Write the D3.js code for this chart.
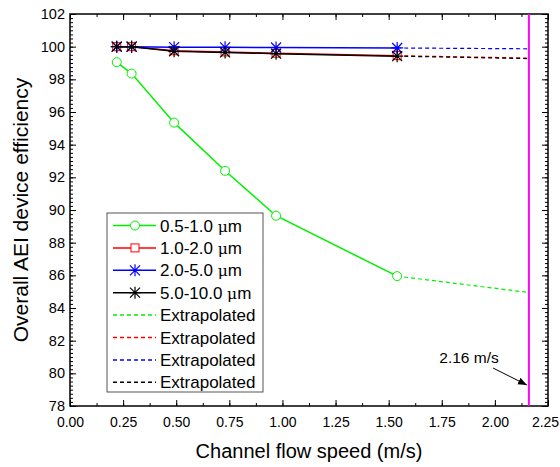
<!DOCTYPE html>
<html>
<head>
<meta charset="utf-8">
<script src="https://cdn.jsdelivr.net/npm/d3@7"></script>
<style>
  html, body { margin: 0; padding: 0; background: #fff; }
  svg { display: block; font-family: "Liberation Sans", Arial, sans-serif; }
</style>
</head>
<body>
<svg id="chart" width="560" height="467"></svg>
<script>
// Measured channel flow speeds (m/s)
const speeds = [0.22, 0.29, 0.49, 0.73, 0.97, 1.54];
// Flow speed marked by the vertical reference line (m/s)
const limitSpeed = 2.16;

// Device efficiency (%) per particle size range
const sizeRanges = ["0.5-1.0", "1.0-2.0", "2.0-5.0", "5.0-10.0"];
const eff05  = [99.05, 98.35, 95.35, 92.4, 89.65, 85.95];
const eff10  = [100, 100, 99.75, 99.68, 99.6, 99.45];
const eff20  = [100, 100, 99.97, 99.96, 99.95, 99.92];
const eff50  = [100, 100, 99.72, 99.65, 99.57, 99.42];
// Extrapolated efficiency at the reference speed
const extrapolatedEff = [84.95, 99.3, 99.87, 99.27];

const xTicks = [0, 0.25, 0.5, 0.75, 1.0, 1.25, 1.5, 1.75, 2.0, 2.25];
const yTicks = [78, 80, 82, 84, 86, 88, 90, 92, 94, 96, 98, 100, 102];

const series = [
  { name: sizeRanges[0], values: eff05, ext: extrapolatedEff[0], color: "#00f000", marker: "circle" },
  { name: sizeRanges[1], values: eff10, ext: extrapolatedEff[1], color: "#ff0000", marker: "square" },
  { name: sizeRanges[2], values: eff20, ext: extrapolatedEff[2], color: "#0000ff", marker: "star" },
  { name: sizeRanges[3], values: eff50, ext: extrapolatedEff[3], color: "#000000", marker: "star" }
];

const L = 70, R = 548, T = 14, B = 406;
const svg = d3.select("#chart");
const x = d3.scaleLinear().domain([0, 2.25]).range([L, R]);
const y = d3.scaleLinear().domain([78, 102]).range([B, T]);

// Axes: ticks point inward on all four sides
const minorX = d3.range(0, 2.2501, 0.125);
const minorY = d3.range(78, 102.001, 0.25);

function axisGroup(axis, tx, ty) {
  const g = svg.append("g").attr("transform", `translate(${tx},${ty})`).call(axis);
  g.select(".domain").remove();
  g.selectAll("line").attr("stroke", "#000").attr("stroke-width", 1);
  return g;
}
// minor ticks
axisGroup(d3.axisBottom(x).tickValues(minorX).tickSize(-3).tickFormat(""), 0, B);
axisGroup(d3.axisTop(x).tickValues(minorX).tickSize(-3).tickFormat(""), 0, T);
axisGroup(d3.axisLeft(y).tickValues(minorY).tickSize(-3).tickFormat(""), L, 0);
axisGroup(d3.axisRight(y).tickValues(minorY).tickSize(-3).tickFormat(""), R, 0);
// major ticks with labels
const xb = axisGroup(d3.axisBottom(x).tickValues(xTicks).tickSize(-6).tickPadding(11).tickFormat(d3.format(".2f")), 0, B);
xb.selectAll("text").attr("font-size", 14).attr("font-family", "Liberation Sans, Arial, sans-serif").attr("fill", "#000");
xb.selectAll("text").filter(d => d === 2.25).attr("dx", -3);
axisGroup(d3.axisTop(x).tickValues(xTicks).tickSize(-6).tickFormat(""), 0, T);
const yl = axisGroup(d3.axisLeft(y).tickValues(yTicks).tickSize(-6).tickPadding(5).tickFormat(d3.format("d")), L, 0);
yl.selectAll("text").attr("font-size", 14.5).attr("font-family", "Liberation Sans, Arial, sans-serif").attr("fill", "#000");
axisGroup(d3.axisRight(y).tickValues(yTicks).tickSize(-6).tickFormat(""), R, 0);

// frame
svg.append("rect").attr("x", L).attr("y", T).attr("width", R - L).attr("height", B - T)
  .attr("fill", "none").attr("stroke", "#000").attr("stroke-width", 1.5);

// axis titles
svg.append("text").attr("x", (L + R) / 2).attr("y", 458).attr("text-anchor", "middle")
  .attr("font-size", 20).text("Channel flow speed (m/s)");
svg.append("text").attr("transform", `translate(28,${(T + B) / 2}) rotate(-90)`)
  .attr("text-anchor", "middle").attr("font-size", 21).text("Overall AEI device efficiency");

// vertical reference line
svg.append("line").attr("x1", x(limitSpeed)).attr("x2", x(limitSpeed))
  .attr("y1", T).attr("y2", B).attr("stroke", "#ff00ff").attr("stroke-width", 2);

// marker drawing
function drawMarker(g, type, cx, cy, color) {
  if (type === "circle") {
    g.append("circle").attr("cx", cx).attr("cy", cy).attr("r", 4.5)
      .attr("fill", "#fff").attr("stroke", color).attr("stroke-width", 1);
  } else if (type === "square") {
    g.append("rect").attr("x", cx - 4).attr("y", cy - 4).attr("width", 8).attr("height", 8)
      .attr("fill", "#fff").attr("stroke", color).attr("stroke-width", 1);
  } else {
    const s = 5;
    const p = d3.path();
    p.moveTo(cx - s, cy - s); p.lineTo(cx + s, cy + s);
    p.moveTo(cx - s, cy + s); p.lineTo(cx + s, cy - s);
    p.moveTo(cx, cy - s * 1.2); p.lineTo(cx, cy + s * 1.2);
    p.moveTo(cx - s * 1.2, cy); p.lineTo(cx + s * 1.2, cy);
    g.append("path").attr("d", p.toString()).attr("stroke", color).attr("stroke-width", 1.2).attr("fill", "none");
  }
}

const line = d3.line().x(d => x(d[0])).y(d => y(d[1]));

// dashed extrapolations first, then measured lines and markers
series.forEach(s => {
  const last = [speeds[speeds.length - 1], s.values[s.values.length - 1]];
  svg.append("path").attr("d", line([last, [limitSpeed, s.ext]]))
    .attr("fill", "none").attr("stroke", s.color).attr("stroke-width", 1.2).attr("stroke-dasharray", "4,3");
});
series.forEach(s => {
  const pts = speeds.map((v, i) => [v, s.values[i]]);
  svg.append("path").attr("d", line(pts)).attr("fill", "none")
    .attr("stroke", s.color).attr("stroke-width", 1.5);
  const g = svg.append("g");
  pts.forEach(p => drawMarker(g, s.marker, x(p[0]), y(p[1]), s.color));
});

// annotation
svg.append("text").attr("x", 469).attr("y", 363).attr("text-anchor", "middle")
  .attr("font-size", 15.5).text(limitSpeed.toFixed(2) + " m/s");
svg.append("defs").append("marker").attr("id", "arrow").attr("viewBox", "0 0 10 10")
  .attr("refX", 10).attr("refY", 5).attr("markerWidth", 9).attr("markerHeight", 9)
  .attr("orient", "auto").attr("markerUnits", "userSpaceOnUse")
  .append("path").attr("d", "M0,1 L10,5 L0,9 Z").attr("fill", "#000");
svg.append("line").attr("x1", 493).attr("y1", 368).attr("x2", x(limitSpeed) - 2).attr("y2", 385)
  .attr("stroke", "#000").attr("stroke-width", 1).attr("marker-end", "url(#arrow)");

// legend
const lg = svg.append("g");
const lx = 107, ly = 213, rowH = 22.4;
lg.append("rect").attr("x", lx).attr("y", ly).attr("width", 156).attr("height", 179)
  .attr("fill", "#fff").attr("stroke", "#555").attr("stroke-width", 1);
series.forEach((s, i) => {
  const cy = ly + 12.5 + i * rowH;
  lg.append("line").attr("x1", lx + 6).attr("x2", lx + 49).attr("y1", cy).attr("y2", cy)
    .attr("stroke", s.color).attr("stroke-width", 1.5);
  drawMarker(lg, s.marker, lx + 28, cy, s.color);
  const t = lg.append("text").attr("x", lx + 53).attr("y", cy + 6).attr("font-size", 17);
  t.append("tspan").text(s.name + " ");
  t.append("tspan").attr("font-family", "DejaVu Serif, serif").attr("font-size", 15.5).text("μ");
  t.append("tspan").text("m");
});
series.forEach((s, i) => {
  const cy = ly + 12.5 + (i + 4) * rowH;
  lg.append("line").attr("x1", lx + 6).attr("x2", lx + 49).attr("y1", cy).attr("y2", cy)
    .attr("stroke", s.color).attr("stroke-width", 1.5).attr("stroke-dasharray", "4,3");
  lg.append("text").attr("x", lx + 53).attr("y", cy + 6).attr("font-size", 17).text("Extrapolated");
});
</script>
</body>
</html>
